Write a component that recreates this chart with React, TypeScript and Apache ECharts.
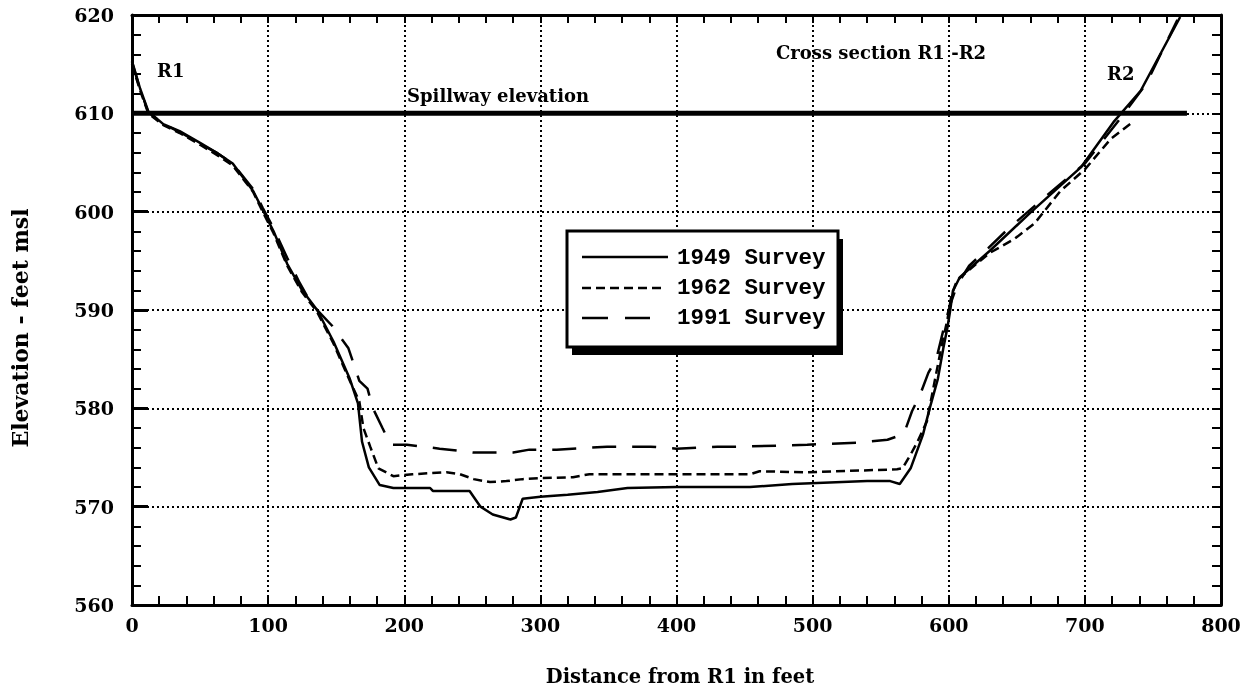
import React, { useEffect, useRef } from "react";
import * as echarts from "echarts";

const xTicks = [0, 100, 200, 300, 400, 500, 600, 700, 800];
const yTicks = [560, 570, 580, 590, 600, 610, 620];

const s1949: [number, number][] = [
  [0, 615.3], [6, 612.5], [12, 610.2], [23, 608.9], [35, 608.2], [50, 607], [62, 606], [74, 604.9],
  [89, 602.1], [96, 600.2], [104, 598], [114, 594.7], [125, 592], [136, 590], [148, 586.8], [160, 583],
  [166, 580.5], [169, 576.6], [174, 574], [182, 572.2], [192, 571.9], [219, 571.9], [221, 571.6],
  [248, 571.6], [256, 570], [265, 569.2], [278, 568.7], [282, 568.9], [287, 570.8], [300, 571],
  [320, 571.2], [342, 571.5], [364, 571.9], [400, 572], [454, 572], [485, 572.3], [540, 572.6],
  [557, 572.6], [564, 572.3], [572, 573.9], [581, 577.3], [586, 580], [592, 583], [596, 586.1],
  [599, 588.2], [601, 589.9], [603, 591.9], [608, 593.3], [616, 594.3], [630, 596], [660, 599.9],
  [697, 604.5], [721, 609.1], [741, 612.3], [770, 619.8],
];

const s1962: [number, number][] = [
  [0, 615], [6, 612.3], [12, 610], [23, 608.8], [35, 608], [50, 606.8], [62, 605.8], [74, 604.7],
  [89, 602], [96, 600], [104, 597.8], [114, 594.5], [125, 591.8], [136, 589.8], [148, 586.6],
  [160, 582.8], [167, 580.7], [170, 578], [175, 576.1], [181, 573.9], [192, 573.1], [206, 573.3],
  [231, 573.5], [241, 573.3], [251, 572.8], [263, 572.5], [275, 572.6], [287, 572.8], [300, 572.9],
  [324, 573], [336, 573.3], [373, 573.3], [454, 573.3], [461, 573.6], [496, 573.5], [562, 573.8],
  [566, 573.9], [572, 575.3], [577, 576.6], [584, 578.7], [590, 583], [595, 586.5], [599, 589],
  [602, 591.5], [606, 593], [616, 594.2], [630, 595.8], [648, 597.2], [663, 598.8], [682, 602.1],
  [700, 604.3], [719, 607.4], [736, 609.2],
];

const s1991: [number, number][] = [
  [0, 615.2], [6, 612.4], [12, 610.1], [23, 608.9], [35, 608.1], [50, 606.9], [62, 606], [74, 604.9],
  [89, 602.3], [96, 600.4], [104, 598.3], [114, 595.3], [123, 592.8], [132, 590.6], [147, 588.4],
  [159, 586.1], [167, 582.8], [173, 582], [177, 580], [184, 578], [190, 576.3], [202, 576.3],
  [226, 575.9], [251, 575.5], [280, 575.5], [292, 575.8], [312, 575.8], [349, 576.1], [381, 576.1],
  [400, 575.9], [430, 576.1], [447, 576.1], [496, 576.3], [533, 576.5], [555, 576.8], [567, 577.4],
  [573, 579.7], [579, 581.4], [585, 583.6], [591, 585.1], [597, 588.5], [601, 590.5], [606, 592.5],
  [615, 594.5], [629, 596.3], [644, 598.3], [670, 601.4], [700, 604.9], [725, 609.3], [745, 613],
  [768, 619.5],
];

const spillway: [number, number][] = [[0, 610], [775, 610]];

const seriesNames = ["1949 Survey", "1962 Survey", "1991 Survey"];

const FONT = '"DejaVu Serif"';

export default function App() {
  const ref = useRef<HTMLDivElement>(null);
  useEffect(() => {
    if (!ref.current) return;
    const chart = echarts.init(ref.current, null, { renderer: "svg" });
    const common = {
      min: 0,
      max: 800,
      interval: 100,
      type: "value" as const,
    };
    const tickStyle = { color: "#000", width: 2 };
    const lbl = { fontFamily: FONT, fontWeight: "bold" as const, fontSize: 19, color: "#000" };
    const grid = { left: 132, right: 26, top: 15, bottom: 90, containLabel: false, outerBoundsMode: "none" };
    const lgX = 567, lgY = 231, lgW = 271, lgH = 116;
    const axLine = { show: true, onZero: false, lineStyle: { color: "#000", width: 3 } };
    chart.setOption({
      animation: false,
      grid,
      xAxis: [
        {
          ...common,
          position: "bottom",
          axisLine: axLine,
          axisTick: { show: true, inside: true, length: 10, lineStyle: tickStyle },
          minorTick: { show: true, splitNumber: 5, length: 9, lineStyle: tickStyle },
          splitLine: { show: true, lineStyle: { color: "#000", width: 2, type: [2, 3] } },
          axisLabel: { ...lbl, margin: 10, formatter: (v: number) => (xTicks.includes(v) ? String(v) : "") },
        },
        {
          ...common,
          position: "top",
          axisLine: axLine,
          axisTick: { show: true, inside: true, length: 8, lineStyle: tickStyle },
          minorTick: { show: true, splitNumber: 5, length: 8, lineStyle: tickStyle },
          splitLine: { show: false },
          axisLabel: { show: false },
        },
      ],
      yAxis: [
        {
          type: "value",
          min: 560,
          max: 620,
          interval: 10,
          position: "left",
          axisLine: axLine,
          axisTick: { show: true, inside: true, length: 16, lineStyle: { color: "#000", width: 3 } },
          minorTick: { show: true, splitNumber: 5, length: 9, lineStyle: tickStyle },
          splitLine: { show: true, lineStyle: { color: "#000", width: 2, type: [2, 3] } },
          axisLabel: { ...lbl, margin: 18, formatter: (v: number) => (yTicks.includes(v) ? String(v) : "") },
        },
        {
          type: "value",
          min: 560,
          max: 620,
          interval: 10,
          position: "right",
          axisLine: axLine,
          axisTick: { show: true, inside: true, length: 9, lineStyle: tickStyle },
          minorTick: { show: true, splitNumber: 5, length: 9, lineStyle: tickStyle },
          splitLine: { show: false },
          axisLabel: { show: false },
        },
      ],
      series: [
        {
          name: "Spillway elevation",
          type: "line",
          data: spillway,
          showSymbol: false,
          lineStyle: { color: "#000", width: 5 },
          z: 3,
        },
        {
          name: seriesNames[0],
          type: "line",
          data: s1949,
          showSymbol: false,
          lineStyle: { color: "#000", width: 2.5 },
        },
        {
          name: seriesNames[1],
          type: "line",
          data: s1962,
          showSymbol: false,
          lineStyle: { color: "#000", width: 2.5, type: [9, 5] },
        },
        {
          name: seriesNames[2],
          type: "line",
          data: s1991,
          showSymbol: false,
          lineStyle: { color: "#000", width: 2.5, type: [24, 16] },
        },
      ],
      graphic: [
        { type: "text", x: 157, y: 70, style: { text: "R1", font: `bold 18px ${FONT}`, fill: "#000", verticalAlign: "middle" } },
        { type: "text", x: 407, y: 95, style: { text: "Spillway elevation", font: `bold 18px ${FONT}`, fill: "#000", verticalAlign: "middle" } },
        { type: "text", x: 776, y: 52, style: { text: "Cross section R1 -R2", font: `bold 18px ${FONT}`, fill: "#000", verticalAlign: "middle" } },
        { type: "text", x: 1107, y: 73, style: { text: "R2", font: `bold 18px ${FONT}`, fill: "#000", verticalAlign: "middle" } },
        { type: "text", x: 680, y: 676, style: { text: "Distance from R1 in feet", font: `bold 19.5px ${FONT}`, fill: "#000", align: "center", verticalAlign: "middle" } },
        { type: "text", x: 20, y: 328, rotation: Math.PI / 2, style: { text: "Elevation - feet msl", font: `bold 22px ${FONT}`, fill: "#000", align: "center", verticalAlign: "middle" } },
        { type: "rect", z: 100, shape: { x: lgX + 5, y: lgY + 8, width: lgW, height: lgH }, style: { fill: "#000" } },
        { type: "rect", z: 101, shape: { x: lgX, y: lgY, width: lgW, height: lgH }, style: { fill: "#fff", stroke: "#000", lineWidth: 3 } },
        { type: "line", z: 102, shape: { x1: 582, y1: 257, x2: 668, y2: 257 }, style: { stroke: "#000", lineWidth: 2.5 } },
        { type: "line", z: 102, shape: { x1: 582, y1: 288, x2: 662, y2: 288 }, style: { stroke: "#000", lineWidth: 2.5, lineDash: [9, 5] } },
        { type: "line", z: 102, shape: { x1: 582, y1: 318, x2: 650, y2: 318 }, style: { stroke: "#000", lineWidth: 2.5, lineDash: [26, 17] } },
        { type: "text", z: 102, x: 677, y: 258, style: { text: seriesNames[0], font: `bold 22.5px "Liberation Mono"`, fill: "#000", verticalAlign: "middle" } },
        { type: "text", z: 102, x: 677, y: 288, style: { text: seriesNames[1], font: `bold 22.5px "Liberation Mono"`, fill: "#000", verticalAlign: "middle" } },
        { type: "text", z: 102, x: 677, y: 318, style: { text: seriesNames[2], font: `bold 22.5px "Liberation Mono"`, fill: "#000", verticalAlign: "middle" } },
      ],
    });
    return () => chart.dispose();
  }, []);
  return <div ref={ref} style={{ position: "fixed", left: 0, top: 0, width: 1247, height: 695 }} />;
}
